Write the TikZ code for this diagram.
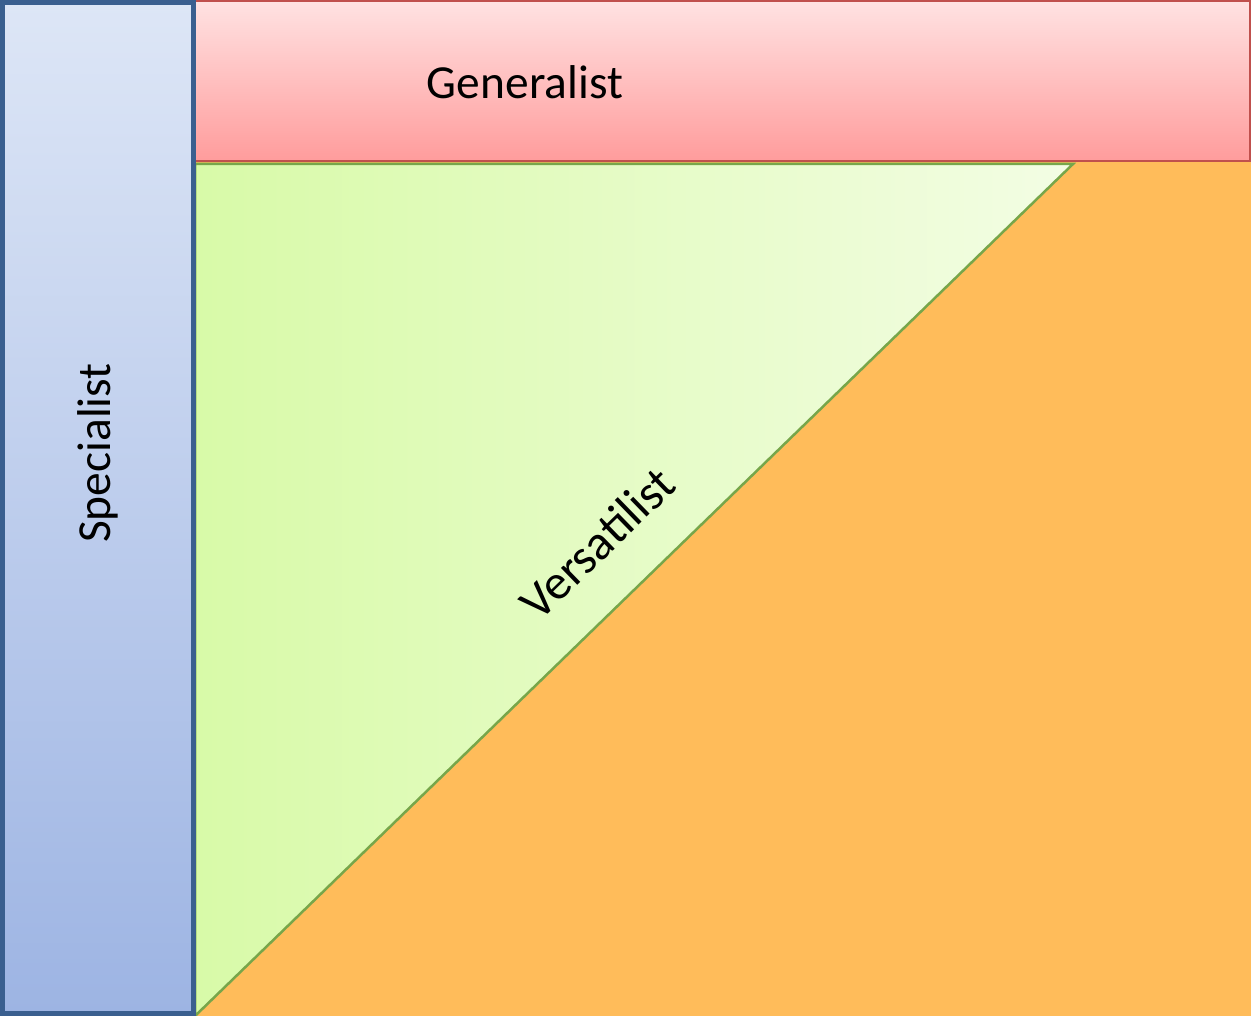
\documentclass[tikz,border=0pt]{standalone}
\usepackage{fontspec}
\setmainfont{Carlito}
\usetikzlibrary{calc}
\definecolor{myorange}{RGB}{255, 188, 90}
\definecolor{myblueline}{RGB}{58, 95, 143}
\definecolor{myredline}{RGB}{192, 80, 77}
\definecolor{mygreenline}{RGB}{119, 166, 74}

\begin{document}
\begin{tikzpicture}[x=0.02cm,y=-0.02cm]

\tikzstyle{spec_block} = [draw=myblueline, line width=0.1cm,
top color={rgb,255:red,221;green,230;blue,246}, bottom color={rgb,255:red,157;green,180;blue,227}]
\tikzstyle{gen_block} = [draw=myredline, line width=0.04cm,
top color={rgb,255:red,255;green,226;blue,226}, bottom color={rgb,255:red,255;green,156;blue,156}]
\tikzstyle{vers_block} = [draw=mygreenline, line width=0.05cm,
left color={rgb,255:red,216;green,250;blue,168}, right color={rgb,255:red,243;green,253;blue,228}]
\tikzstyle{label} = [font=\fontsize{27}{32}\selectfont, text=black, inner sep=0]

\useasboundingbox (0,0) rectangle (1251,1016);

% orange area
\fill[myorange] (195,162) rectangle (1251,1016);

% versatilist triangle
\coordinate (t1) at (195,164);
\coordinate (t2) at (1073,164);
\coordinate (t3) at (195,1016);
\path[vers_block] (t1) -- (t2) -- (t3) -- cycle;

% generalist bar
\path[gen_block] (195,1) rectangle (1250,161);
% specialist bar
\path[spec_block] (2.5,2.5) rectangle (193,1013.5);

\node[label] (gen) at (525,82) {Generalist};
\node[label, rotate=90] (spec) at (98,453) {Specialist};
\node[label, font=\fontsize{28}{33}\selectfont, rotate=44.2] (vers) at (597,543) {Versatilist};

\end{tikzpicture}
\end{document}
